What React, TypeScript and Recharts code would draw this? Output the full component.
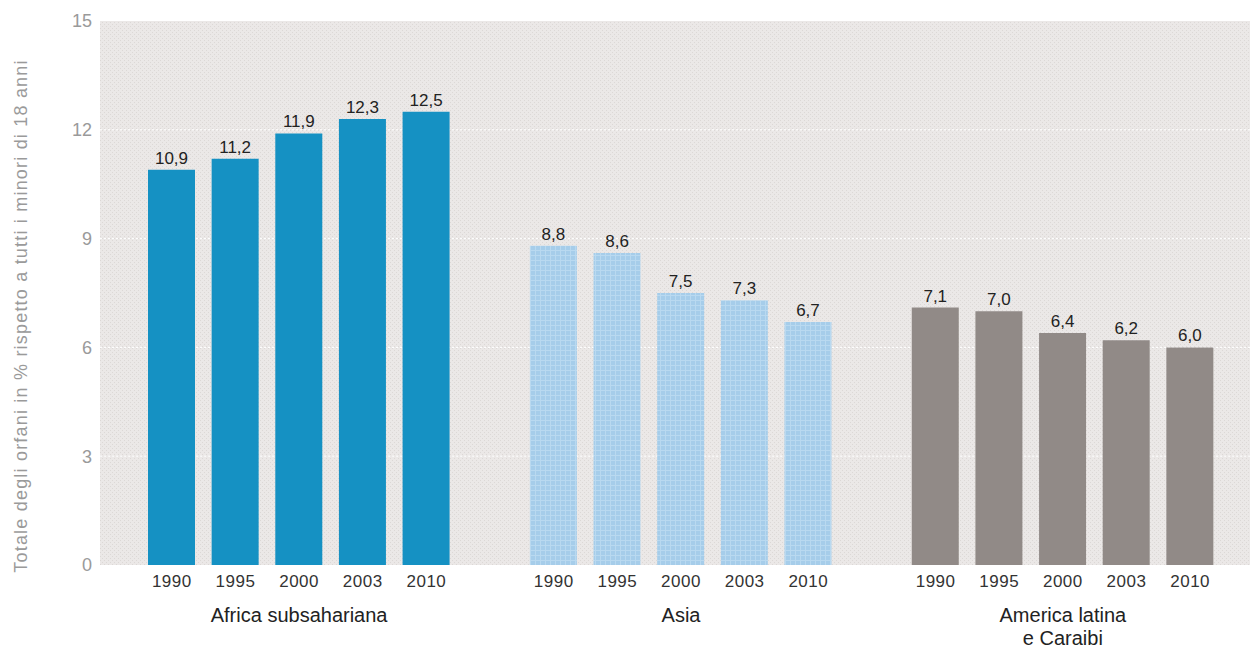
import React from 'react';
import { BarChart, Bar, XAxis, YAxis, CartesianGrid, Cell, LabelList } from 'recharts';

const years = ['1990', '1995', '2000', '2003', '2010'];
const regions = ['Africa subsahariana', 'Asia', 'America latina e Caraibi'];
const regionLines = [['Africa subsahariana'], ['Asia'], ['America latina', 'e Caraibi']];
const africa = [10.9, 11.2, 11.9, 12.3, 12.5];
const asia = [8.8, 8.6, 7.5, 7.3, 6.7];
const america = [7.1, 7.0, 6.4, 6.2, 6.0];
const yTicks = [0, 3, 6, 9, 12, 15];
const yLabel = 'Totale degli orfani in % rispetto a tutti i minori di 18 anni';

const regionColors = ['#1591c3', 'url(#asiaHatch)', '#918a87'];

// one row per bar, with an empty slot between the regions
const seriesList = [africa, asia, america];
const rows: any[] = [];
seriesList.forEach((vals, r) => {
    if (r > 0) rows.push({ key: 'gap' + r, year: '', region: -1, value: null });
    vals.forEach((v, i) => {
        rows.push({ key: r + '-' + years[i], year: years[i], region: r, value: v, mid: i === 2 });
    });
});

const fmt = (v: any) => (v == null ? '' : Number(v).toFixed(1).replace('.', ','));

const YearTick = (props: any) => {
    const { x, y, index } = props;
    const row = rows[index];
    if (!row || row.region < 0) return null;
    return (
        <g>
            <text x={x} y={y + 22} textAnchor="middle" fontSize={17} fill="#333" letterSpacing={0.5}>
                {row.year}
            </text>
            {row.mid &&
                regionLines[row.region].map((line, li) => (
                    <text key={li} x={x} y={y + 57 + li * 23} textAnchor="middle" fontSize={20} fill="#222">
                        {line}
                    </text>
                ))}
        </g>
    );
};

const YTitle = () => (
    <text
        x={22}
        y={316}
        transform="rotate(-90, 22, 316)"
        textAnchor="middle"
        dominantBaseline="middle"
        fontSize={18}
        letterSpacing={1.2}
        fill="#9a9a9a"
    >
        {yLabel}
    </text>
);

export default function App() {
    return (
        <div style={{ position: 'absolute', left: 0, top: 0, fontFamily: '"Liberation Sans", Arial, sans-serif' }}>
            <BarChart
                width={1250}
                height={650}
                data={rows}
                margin={{ top: 21, right: 0, bottom: 0, left: 0 }}
            >
                <defs>
                    <pattern id="bgHatch" width="4" height="4" patternUnits="userSpaceOnUse">
                        <rect width="4" height="4" fill="#ebe8e7" />
                        <rect x="0" y="0" width="1" height="1" fill="#dcd8d6" />
                        <rect x="2" y="2" width="1" height="1" fill="#dcd8d6" />
                    </pattern>
                    <pattern id="asiaHatch" width="5" height="5" patternUnits="userSpaceOnUse">
                        <rect width="5" height="5" fill="#a6cdea" />
                        <rect x="0" y="0" width="1" height="5" fill="#b9d9f0" />
                        <rect x="0" y="0" width="5" height="1" fill="#b9d9f0" />
                    </pattern>
                </defs>
                <CartesianGrid
                    vertical={false}
                    horizontalValues={[3, 6, 9, 12]}
                    stroke="#ffffff"
                    strokeDasharray="2 2"
                    fill="url(#bgHatch)"
                    fillOpacity={1}
                />
                <XAxis
                    dataKey="key"
                    interval={0}
                    height={85}
                    tickLine={false}
                    axisLine={false}
                    tickSize={0}
                    tickMargin={0}
                    padding={{ left: 40, right: 28 }}
                    tick={<YearTick />}
                />
                <YAxis
                    width={100}
                    domain={[0, 15]}
                    ticks={yTicks}
                    tickLine={false}
                    axisLine={false}
                    tick={{ fontSize: 18, fill: '#9a9a9a' }}
                    label={<YTitle />}
                />
                <Bar dataKey="value" barSize={47} isAnimationActive={false}>
                    {rows.map((row, i) => (
                        <Cell key={i} fill={row.region >= 0 ? regionColors[row.region] : 'none'} />
                    ))}
                    <LabelList dataKey="value" position="top" offset={6} formatter={fmt} fontSize={17} fill="#222" />
                </Bar>
            </BarChart>
        </div>
    );
}
